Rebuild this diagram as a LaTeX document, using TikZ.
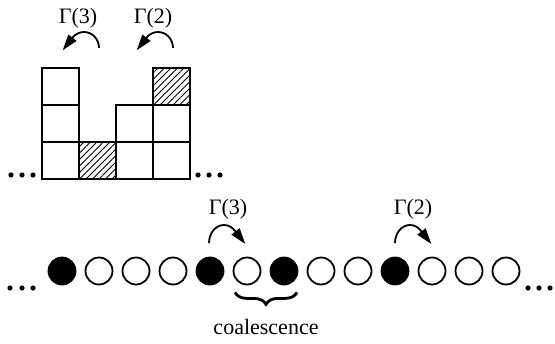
\documentclass[tikz,border=0pt]{standalone}
\usepackage{fontspec}
\setmainfont{Liberation Serif}
\usetikzlibrary{arrows.meta}
\usetikzlibrary{calc}
\usetikzlibrary{patterns.meta}
\usetikzlibrary{decorations.pathreplacing}

\tikzset{
  cell/.style={draw, line width=0.9pt, inner sep=0pt, minimum size=18.5pt},
  hatched/.style={cell, pattern={Lines[angle=45, distance=2.3pt, line width=0.45pt]}},
  site/.style={circle, draw, line width=0.9pt, inner sep=0pt, minimum size=13.5pt},
  occ/.style={site, fill=black},
  hop/.style={line width=0.9pt, -{Triangle[length=8pt, width=5pt]}},
  lbl/.style={font=\fontsize{11}{13}\selectfont, inner sep=0pt},
  brc/.style={decorate, decoration={brace, mirror, amplitude=6pt}, line width=1.4pt},
}

\begin{document}
\begin{tikzpicture}[x=0.5pt, y=0.5pt]
      \useasboundingbox (0,0) rectangle (555,343);

      % columns of the height profile
      \node[cell] (s1-1) at (60.5,182.5) {};
      \node[cell] (s1-2) at (60.5,219.5) {};
      \node[cell] (s1-3) at (60.5,256.5) {};
      \node[hatched] (s2-1) at (97.5,182.5) {};
      \node[cell] (s3-1) at (134.5,182.5) {};
      \node[cell] (s3-2) at (134.5,219.5) {};
      \node[cell] (s4-1) at (171.5,182.5) {};
      \node[cell] (s4-2) at (171.5,219.5) {};
      \node[hatched] (s4-3) at (171.5,256.5) {};

      \foreach \x in {11,22,33,198,209,220}
        \fill (\x,168) circle (2.6);

      % moves above the columns
      \coordinate (t3) at (99,295);
      \coordinate (t2) at (173,295);
      \draw[hop] (t3) arc[start angle=0, end angle=140, x radius=15, y radius=16] -- ++(232:8pt);
      \draw[hop] (t2) arc[start angle=0, end angle=140, x radius=15, y radius=16] -- ++(232:8pt);
      \node[lbl] (g3top) at (78,325) {Γ(3)};
      \node[lbl] (g2top) at (153,325) {Γ(2)};

      % particles on the line
      \node[occ]  (c1)  at (62,72) {};
      \node[site] (c2)  at (99,72) {};
      \node[site] (c3)  at (136,72) {};
      \node[site] (c4)  at (173,72) {};
      \node[occ]  (c5)  at (210,72) {};
      \node[site] (c6)  at (247,72) {};
      \node[occ]  (c7)  at (284,72) {};
      \node[site] (c8)  at (321,72) {};
      \node[site] (c9)  at (358,72) {};
      \node[occ]  (c10) at (395,72) {};
      \node[site] (c11) at (432,72) {};
      \node[site] (c12) at (469,72) {};
      \node[site] (c13) at (506,72) {};

      \foreach \x in {10,22,33,528,539,550}
        \fill (\x,55) circle (2.6);

      % hops of the particles
      \draw[hop] ($(c5)+(-1,28)$) arc[start angle=180, end angle=40, x radius=15, y radius=18] -- ++(-52:8pt);
      \draw[hop] ($(c10)+(0,28)$) arc[start angle=180, end angle=40, x radius=15, y radius=18] -- ++(-52:8pt);
      \node[lbl] (g3bot) at (228,134) {Γ(3)};
      \node[lbl] (g2bot) at (413,134) {Γ(2)};

      \draw[brc] ($(c6.south)+(-12,-7)$) -- ($(c7.south)+(13,-7)$);
      \node[lbl] (coal) at (266,16) {coalescence};
\end{tikzpicture}
\end{document}
